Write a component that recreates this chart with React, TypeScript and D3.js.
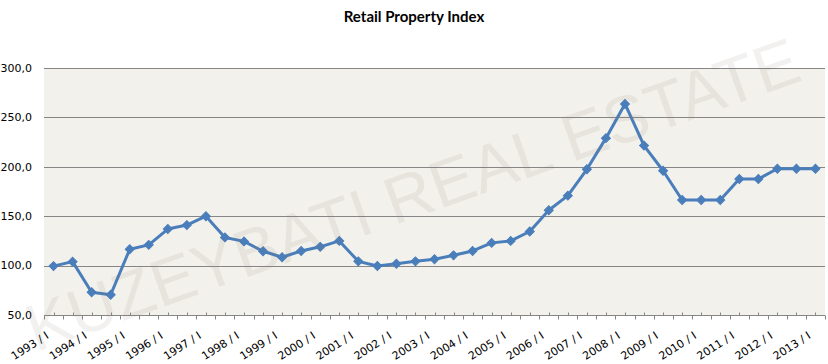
import * as d3 from "d3";
import { useEffect, useRef } from "react";

// semiannual periods, 1993/I .. 2013/I
const categories = [
  "1993 / I", "1993 / II", "1994 / I", "1994 / II", "1995 / I", "1995 / II",
  "1996 / I", "1996 / II", "1997 / I", "1997 / II", "1998 / I", "1998 / II",
  "1999 / I", "1999 / II", "2000 / I", "2000 / II", "2001 / I", "2001 / II",
  "2002 / I", "2002 / II", "2003 / I", "2003 / II", "2004 / I", "2004 / II",
  "2005 / I", "2005 / II", "2006 / I", "2006 / II", "2007 / I", "2007 / II",
  "2008 / I", "2008 / II", "2009 / I", "2009 / II", "2010 / I", "2010 / II",
  "2011 / I", "2011 / II", "2012 / I", "2012 / II", "2013 / I",
];

const indexValues = [
  99.5, 104, 73, 70.5, 116.5, 121, 137, 141, 150, 128.5, 124.5, 114.5,
  108.5, 114.8, 119, 125, 104.3, 99.6, 101.9, 104.3, 106.4, 110.4, 114.8, 123,
  125, 134.5, 156, 170.8, 197.5, 229, 263.6, 221.5, 196, 166.4, 166.4, 166.4,
  187.6, 187.6, 198, 198, 198,
];

const yTicks = [50, 100, 150, 200, 250, 300];

const title = "Retail Property Index";
const watermark = "KUZEYBATI REAL ESTATE";

const width = 828;
const height = 364;
const margin = { top: 68, right: 3, bottom: 49, left: 44 };

const lineColor = "#4A7EBB";
const gridColor = "#868686";

export default function App() {
  const svgRef = useRef<SVGSVGElement | null>(null);

  useEffect(() => {
    if (!svgRef.current) return;
    const svg = d3.select(svgRef.current);
    svg.selectAll("*").remove();

    const x = d3
      .scaleBand<string>()
      .domain(categories)
      .range([margin.left, width - margin.right]);
    const y = d3
      .scaleLinear()
      .domain([50, 300])
      .range([height - margin.bottom, margin.top]);

    const bw = x.bandwidth();
    const cx = (c: string) => (x(c) as number) + bw / 2;

    // plot area
    svg
      .append("rect")
      .attr("x", margin.left)
      .attr("y", margin.top)
      .attr("width", width - margin.left - margin.right)
      .attr("height", height - margin.top - margin.bottom)
      .attr("fill", "#F2F1EB");

    // horizontal gridlines
    svg
      .append("g")
      .selectAll("line")
      .data(yTicks.slice(1))
      .join("line")
      .attr("x1", margin.left)
      .attr("x2", width - margin.right)
      .attr("y1", (d) => Math.round(y(d)) + 0.5)
      .attr("y2", (d) => Math.round(y(d)) + 0.5)
      .attr("stroke", gridColor)
      .attr("stroke-width", 1);

    // y tick labels
    svg
      .append("g")
      .selectAll("text")
      .data(yTicks)
      .join("text")
      .attr("x", 32)
      .attr("y", (d) => y(d))
      .attr("dy", "0.35em")
      .attr("text-anchor", "end")
      .attr("font-family", "DejaVu Sans, sans-serif")
      .attr("font-size", 11)
      .attr("fill", "#000")
      .text((d) => d.toFixed(1).replace(".", ","));

    // x axis line + ticks
    const axisY = Math.round(y(50)) + 0.5;
    const axis = svg.append("g").attr("stroke", gridColor);
    axis
      .append("line")
      .attr("x1", margin.left)
      .attr("x2", width - margin.right)
      .attr("y1", axisY)
      .attr("y2", axisY);
    // major ticks (outside) at category boundaries
    const bounds = categories.map((c) => x(c) as number).concat([width - margin.right]);
    axis
      .selectAll("line.major")
      .data(bounds)
      .join("line")
      .attr("class", "major")
      .attr("x1", (d) => Math.round(d) + 0.5)
      .attr("x2", (d) => Math.round(d) + 0.5)
      .attr("y1", axisY)
      .attr("y2", axisY + 4);
    // minor ticks (inside) at category centres
    axis
      .selectAll("line.minor")
      .data(categories)
      .join("line")
      .attr("class", "minor")
      .attr("x1", (d) => Math.round(cx(d)) + 0.5)
      .attr("x2", (d) => Math.round(cx(d)) + 0.5)
      .attr("y1", axisY)
      .attr("y2", axisY - 3);

    // x labels, one per year
    const labelled = categories.filter((c) => c.endsWith("/ I"));
    svg
      .append("g")
      .selectAll("text")
      .data(labelled)
      .join("text")
      .attr("transform", (d) => `translate(${cx(d) - 4},${axisY + 22}) rotate(-33)`)
      .attr("text-anchor", "end")
      .attr("font-family", "DejaVu Sans, sans-serif")
      .attr("font-size", 11)
      .attr("fill", "#000")
      .text((d) => d);

    // line
    const line = d3
      .line<number>()
      .x((_, i) => cx(categories[i]))
      .y((d) => y(d));
    svg
      .append("path")
      .datum(indexValues)
      .attr("d", line)
      .attr("fill", "none")
      .attr("stroke", lineColor)
      .attr("stroke-width", 3)
      .attr("stroke-linejoin", "round");

    // diamond markers
    const diamond = d3.symbol().type(d3.symbolSquare).size(40);
    svg
      .append("g")
      .selectAll("path")
      .data(indexValues)
      .join("path")
      .attr("d", diamond)
      .attr("transform", (d, i) => `translate(${cx(categories[i])},${y(d)}) rotate(45)`)
      .attr("fill", lineColor)
      .attr("stroke", lineColor)
      .attr("stroke-width", 1);

    // watermark over everything
    svg
      .append("text")
      .attr("transform", "translate(420,216) rotate(-19.5)")
      .attr("text-anchor", "middle")
      .attr("font-family", "Liberation Sans, Arial, sans-serif")
      .attr("font-size", 66)
      .attr("fill", "#7f7a66")
      .attr("fill-opacity", 0.1)
      .text(watermark);

    // title
    svg
      .append("text")
      .attr("x", width / 2)
      .attr("y", 22)
      .attr("text-anchor", "middle")
      .attr("font-family", "Lato, sans-serif")
      .attr("font-weight", "bold")
      .attr("font-size", 15)
      .attr("fill", "#000")
      .text(title);
  }, []);

  return (
    <svg
      ref={svgRef}
      width={width}
      height={height}
      style={{ position: "absolute", left: 0, top: 0, background: "#fff" }}
    />
  );
}
